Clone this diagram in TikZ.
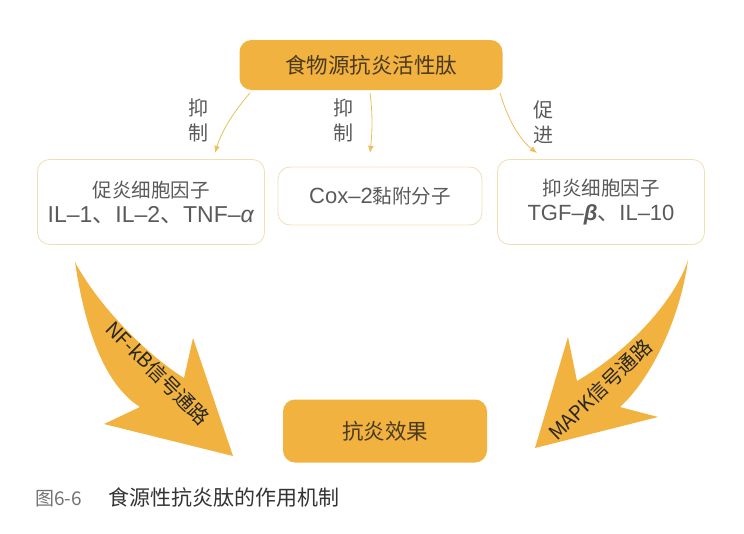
\documentclass[tikz,border=0pt]{standalone}
\usepackage{fontspec}
\setmainfont{Liberation Sans}
\newfontfamily\cjk{Noto Sans CJK SC}
\newfontfamily\latin{Liberation Sans}
\newcommand{\dun}{{\cjk 、}}
\usetikzlibrary{arrows.meta,calc}
\definecolor{peptideorange}{HTML}{F2B23F}
\definecolor{arrowgold}{HTML}{EBC05A}
\definecolor{boxrim}{HTML}{EFE0B4}
\definecolor{ink}{HTML}{4A3A22}
\definecolor{greytext}{HTML}{5A5A5A}

\begin{document}
\begin{tikzpicture}[
  x=1pt, y=-1pt,
  font=\cjk,
  >=Latex,
  keybox/.style={fill=peptideorange, rounded corners=12pt, align=center,
    text=ink, font=\cjk\fontsize{21.5}{25}\selectfont},
  factor/.style={draw=boxrim, fill=white, rounded corners=12pt, line width=0.8pt,
    align=center, text=greytext, font=\cjk\fontsize{19.5}{25}\selectfont},
  effect/.style={-{Latex[length=2.5mm,width=2mm]}, line width=0.8pt, draw=arrowgold},
  effectlabel/.style={text=greytext, align=center, font=\cjk\fontsize{20}{25}\selectfont},
  pathway/.style={fill=peptideorange},
  pathlabel/.style={text=black!85, font=\cjk\fontsize{20}{22}\selectfont}
]
\useasboundingbox (0,0) rectangle (744,533);

% source and result
\node[keybox, minimum width=263pt, minimum height=50pt] (peptide) at (371,65) {食物源抗炎活性肽};
\node[keybox, minimum width=204pt, minimum height=63pt] (result) at (385,431) {抗炎效果};

% cytokines and adhesion molecule
\node[factor, minimum width=227pt, minimum height=85pt] (pro) at (151,202)
  {促炎细胞因子\\{\latin\fontsize{23}{25}\selectfont IL–1\dun IL–2\dun TNF–\textit{α}}};
\node[factor, minimum width=204pt, minimum height=58pt] (cox) at (380,196)
  {{\latin\fontsize{22}{25}\selectfont Cox–2}黏附分子};
\node[factor, minimum width=207pt, minimum height=85pt] (anti) at (601,202)
  {抑炎细胞因子\\{\latin\fontsize{22}{25}\selectfont TGF–\textbf{\textit{β}}\dun IL–10}};

% thin arrows from the peptide
\coordinate (p1) at (250,93);
\coordinate (p2) at (370,93);
\coordinate (p3) at (500,93);
\draw[effect] (p1) .. controls (235,110) and (222,130) .. (215,153);
\draw[effect] (p2) .. controls (373,115) and (372,135) .. (370,153);
\draw[effect] (p3) .. controls (508,120) and (520,140) .. (537,153);
\node[effectlabel] (lblpro) at (198,120) {抑\\制};
\node[effectlabel] (lblcox) at (343,120) {抑\\制};
\node[effectlabel] (lblanti) at (543,122) {促\\进};

% big pathway arrows
\path[pathway] (75,262) .. controls (85,330) and (105,385) .. (140,407)
  -- (104,424) -- (233,456) -- (193,338) -- (184,378)
  .. controls (140,350) and (95,300) .. cycle;
\path[pathway] (688,260) .. controls (680,320) and (650,380) .. (620,407)
  -- (658,417) -- (535,448) -- (568,337) -- (577,381)
  .. controls (630,350) and (675,300) .. cycle;
\node[pathlabel, rotate=-45] (nfkb) at (158,373) {NF-kB信号通路};
\node[pathlabel, rotate=44] (mapk) at (600,390) {MAPK信号通路};

% caption
\node[anchor=west, inner sep=0pt] (caption) at (35,497)
  {\textcolor{black!55}{\fontsize{19}{22}\selectfont 图6-6}\hspace{27pt}%
   \textcolor{black!80}{\fontsize{21}{22}\selectfont 食源性抗炎肽的作用机制}};
\end{tikzpicture}
\end{document}
